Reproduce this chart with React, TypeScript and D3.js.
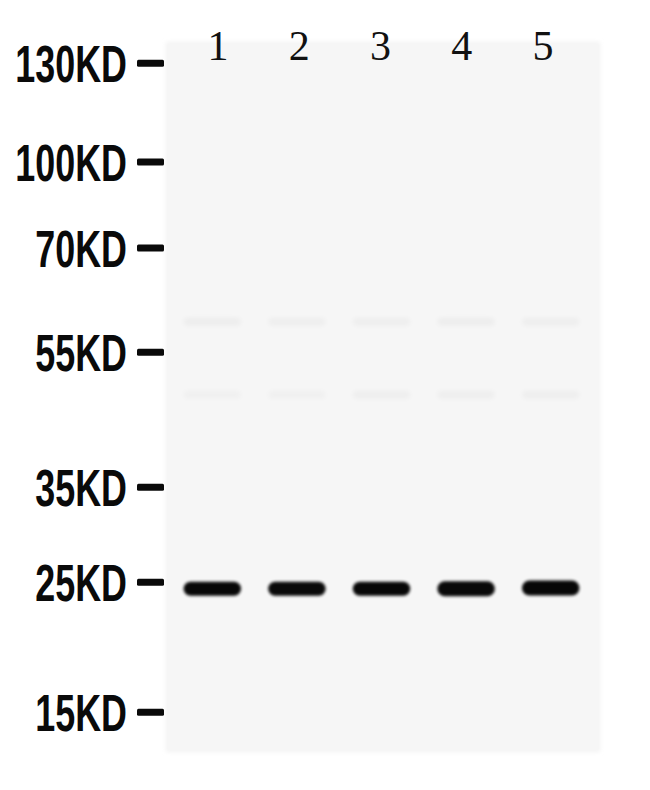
import React from 'react';
import * as d3 from 'd3';

const lanes = ['1', '2', '3', '4', '5'];
const markerKD = [130, 100, 70, 55, 35, 25, 15];
// relative migration (0 = top of membrane, 1 = bottom)
const markerRf = [0.030, 0.169, 0.290, 0.437, 0.627, 0.761, 0.944];

// main ~25KD band per lane
const bandRf = [0.770, 0.770, 0.770, 0.770, 0.769];
const bandIntensity = [0.97, 0.96, 0.97, 0.96, 0.97];
const bandThickness = [14, 14, 14, 15, 15];

// faint background bands
const faintRf = [0.394, 0.497];
const faintIntensity = [
  [0.035, 0.03, 0.03, 0.035, 0.03],
  [0.025, 0.025, 0.03, 0.03, 0.03],
];

const W = 650;
const H = 790;
const panel = { x0: 166, x1: 600, y0: 42, y1: 752 };

const App: React.FC = () => {
  const y = d3.scaleLinear().domain([0, 1]).range([panel.y0, panel.y1]);
  const x = d3.scaleBand<string>().domain(lanes).range([170, 593]).padding(0);
  const bw = x.bandwidth();
  const bandW = bw * 0.68;
  // lane numbers are printed slightly tighter than the lanes themselves
  const xLabel = d3.scalePoint<string>().domain(lanes).range([218, 543]);

  return (
    <svg width={W} height={H} style={{ position: 'absolute', left: 0, top: 0, background: '#fff' }}>
      <defs>
        <filter id="blur" x="-20%" y="-60%" width="140%" height="220%">
          <feGaussianBlur stdDeviation="1.4" />
        </filter>
        <filter id="soft" x="-20%" y="-100%" width="140%" height="300%">
          <feGaussianBlur stdDeviation="2.5" />
        </filter>
        <filter id="edge" x="-5%" y="-5%" width="110%" height="110%">
          <feGaussianBlur stdDeviation="2" />
        </filter>
      </defs>

      {/* membrane */}
      <rect x={panel.x0} y={panel.y0} width={panel.x1 - panel.x0} height={panel.y1 - panel.y0}
        fill="#f3f3f3" filter="url(#edge)" />
      <rect x={panel.x0 + 2} y={panel.y0 + 2} width={panel.x1 - panel.x0 - 4} height={panel.y1 - panel.y0 - 4}
        fill="#f6f6f6" />

      {/* faint bands */}
      {faintRf.map((rf, r) => (
        <g key={'f' + r}>
          {lanes.map((l, i) => (
            <rect key={l} x={(x(l) ?? 0) + (bw - bandW) / 2} y={y(rf) - 4} width={bandW} height={8}
              rx={4} fill="#000" opacity={faintIntensity[r][i]} filter="url(#soft)" />
          ))}
        </g>
      ))}

      {/* main bands */}
      {lanes.map((l, i) => (
        <rect key={l} x={(x(l) ?? 0) + (bw - bandW) / 2} y={y(bandRf[i]) - bandThickness[i] / 2}
          width={bandW} height={bandThickness[i]} rx={bandThickness[i] / 2}
          fill="#000" opacity={bandIntensity[i]} filter="url(#blur)" />
      ))}

      {/* lane numbers */}
      {lanes.map(l => (
        <text key={l} x={xLabel(l)} y={60} textAnchor="middle"
          fontFamily="'Liberation Serif', 'Times New Roman', serif" fontSize={42} fill="#111">
          {l}
        </text>
      ))}

      {/* marker ladder */}
      {markerKD.map((kd, i) => {
        const yy = y(markerRf[i]);
        return (
          <g key={kd}>
            <text transform={`translate(127,${yy + 19}) scale(0.69,1)`} textAnchor="end"
              fontFamily="'Liberation Sans', Arial, sans-serif" fontWeight="bold" fontSize={52} fill="#0a0a0a">
              {kd}KD
            </text>
            <rect x={137} y={yy - 3.5} width={27} height={7} rx={1.5} fill="#0a0a0a" />
          </g>
        );
      })}
    </svg>
  );
};

export default App;
